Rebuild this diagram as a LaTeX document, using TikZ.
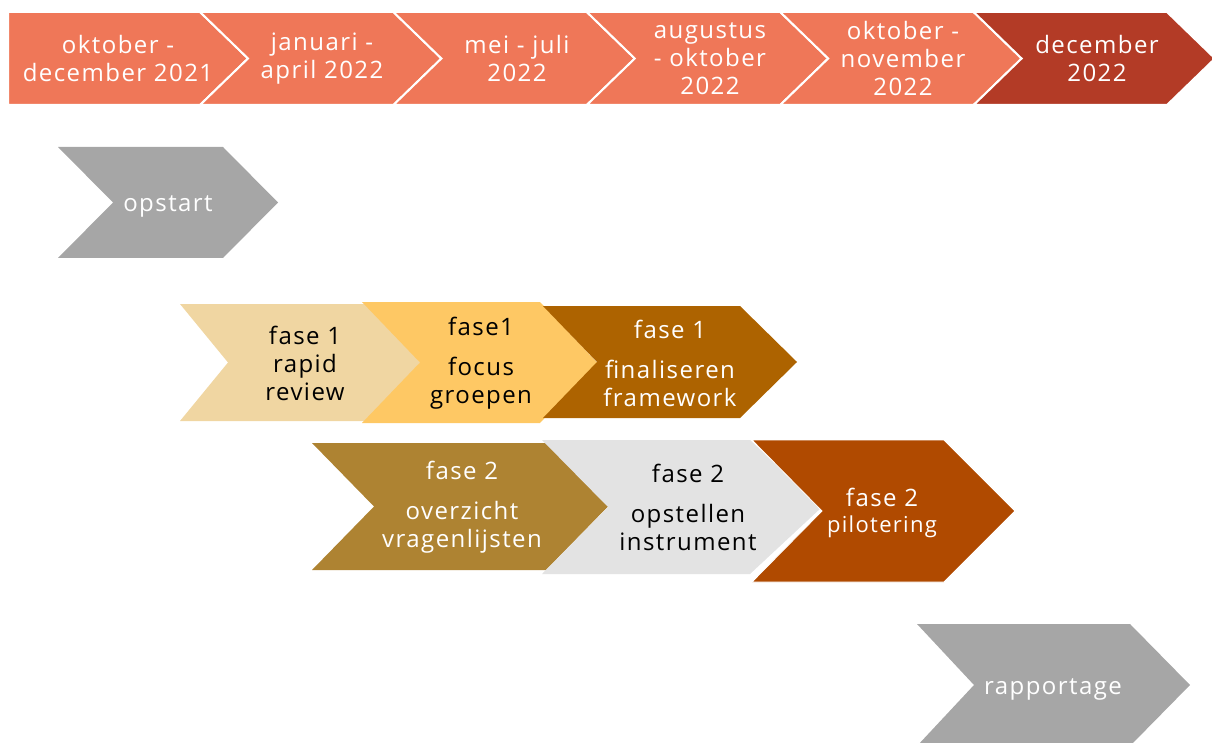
\documentclass[tikz,border=0pt]{standalone}
\usepackage{fontspec}
\setmainfont{Open Sans}[LetterSpace=6]
\definecolor{toporange}{RGB}{239,119,88}
\definecolor{topred}{RGB}{179,59,38}
\definecolor{stepgray}{RGB}{166,166,166}
\definecolor{tanlight}{RGB}{240,214,162}
\definecolor{yellowmid}{RGB}{254,200,100}
\definecolor{browndark}{RGB}{173,99,0}
\definecolor{ochre}{RGB}{174,131,50}
\definecolor{greylight}{RGB}{227,227,227}
\definecolor{rust}{RGB}{176,74,0}
% chevron: left x, top-right x, top y, bottom y, notch depth, tip depth, style
\newcommand\chevshape[7]{%
  \filldraw[#7] (#1,#3) -- (#2,#3) -- ({#2+#6},{(#3+#4)/2}) -- (#2,#4) -- (#1,#4)
    -- ({#1+#5},{(#3+#4)/2}) -- cycle;}
\begin{document}
\begin{tikzpicture}[x=1pt,y=-1pt,
  topbox/.style={fill=toporange,draw=white,line width=2pt},
  toplbl/.style={align=center,text=white,inner sep=0pt,
    font=\fontsize{24}{28}\selectfont},
  phaselbl/.style={align=center,inner sep=0pt,
    font=\fontsize{24}{28}\selectfont},
  onwhite/.style={phaselbl,text=white},
  onblack/.style={phaselbl,text=black}]
\useasboundingbox (0,0) rectangle (1212,743);

% time line along the top
\filldraw[topbox] (8,12) -- (200,12) -- (248,58.5) -- (200,105) -- (8,105) -- cycle;
\chevshape{200}{393.4}{12}{105}{48}{48}{topbox}
\chevshape{393.4}{586.8}{12}{105}{48}{48}{topbox}
\chevshape{586.8}{780.2}{12}{105}{48}{48}{topbox}
\chevshape{780.2}{973.6}{12}{105}{48}{48}{topbox}
\chevshape{973.6}{1167}{12}{105}{48}{48}{topbox,fill=topred}
\node[toplbl] (t1) at (118,58.5) {oktober -\\december 2021};
\node[toplbl] (t2) at (322,58.5) {januari -\\april 2022};
\node[toplbl] (t3) at (517,58.5) {mei - juli\\2022};
\node[toplbl] (t4) at (710,58.5) {augustus\\- oktober\\2022};
\node[toplbl] (t5) at (903,58.5) {oktober -\\november\\2022};
\node[toplbl] (t6) at (1097,58.5) {december\\2022};

% start
\chevshape{58}{223}{147}{258}{55}{55}{fill=stepgray,draw=none}
\node[onwhite] (opstart) at (168,206) {opstart};

% phase 1
\chevshape{180}{373}{304}{421}{48}{47}{fill=tanlight,draw=none}
\chevshape{362}{540}{302}{423}{58}{57}{fill=yellowmid,draw=none}
\chevshape{543}{740}{306}{418}{54}{57}{fill=browndark,draw=none}
\node[onblack] (p1a) at (305,363) {fase 1\\rapid\\review};
\node[onblack] (p1b) at (481,363) {fase1\\[12pt]focus\\groepen};
\node[onwhite] (p1c) at (670,363) {fase 1\\[12pt]finaliseren\\framework};

% phase 2
\chevshape{312}{546}{443}{570}{62}{62}{fill=ochre,draw=none}
\chevshape{542}{750}{440}{574}{66}{72}{fill=greylight,draw=none}
\chevshape{752}{944}{440}{582}{70}{71}{fill=rust,draw=white,line width=0.8pt}
\node[onwhite] (p2a) at (462,507) {fase 2\\[12pt]overzicht\\vragenlijsten};
\node[onblack] (p2b) at (688,507) {fase 2\\[12pt]opstellen\\instrument};
\node[onwhite,anchor=base] (p2c) at (882,506) {fase 2};
\node[onwhite,anchor=base,font=\fontsize{22}{24}\selectfont] (p2d) at (882,532) {pilotering};

% reporting
\chevshape{917}{1130}{624}{746}{57}{60}{fill=stepgray,draw=none}
\node[onwhite] (rapport) at (1053,689) {rapportage};
\end{tikzpicture}
\end{document}
